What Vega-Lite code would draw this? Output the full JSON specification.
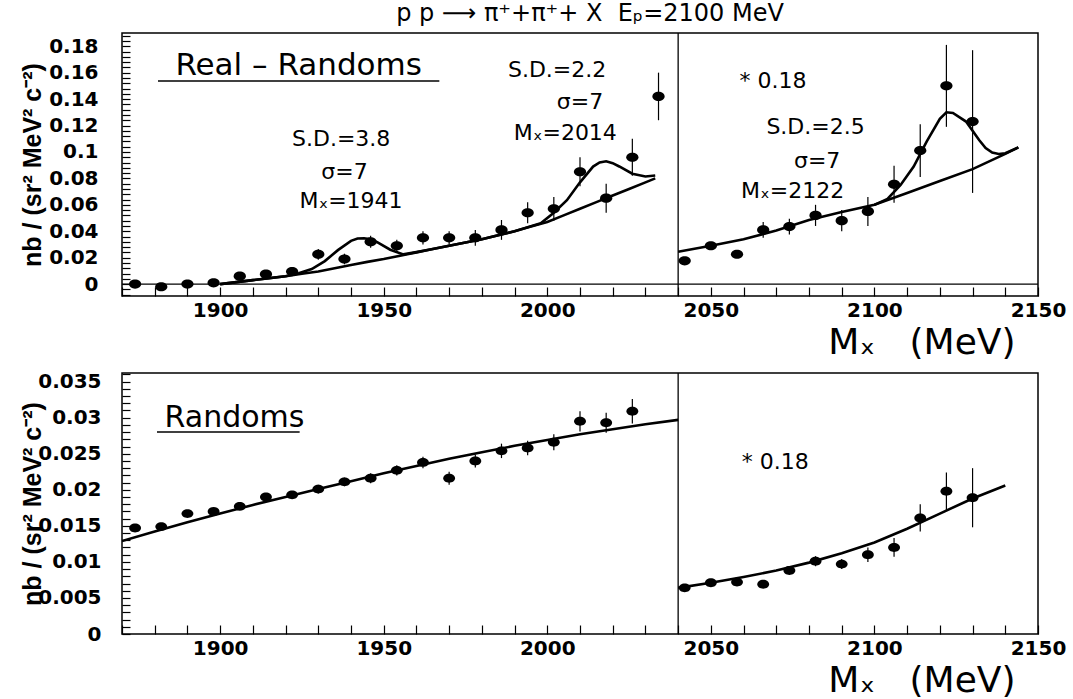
{
  "$schema": "https://vega.github.io/schema/vega-lite/v6.json",
  "background": "white",
  "padding": {"left": 19, "top": 0, "right": 5, "bottom": 0},
  "spacing": 2,
  "config": {
    "font": "DejaVu Sans",
    "view": {"stroke": "black", "strokeWidth": 1.5},
    "axis": {"labelColor": "black", "titleColor": "black", "tickColor": "black", "domain": false, "grid": false}
  },
  "datasets": {
    "topPts": [
      {"x":1874,"y":0.000,"lo":-0.002,"hi":0.002},
      {"x":1882,"y":-0.002,"lo":-0.004,"hi":0.000},
      {"x":1890,"y":0.000,"lo":-0.002,"hi":0.002},
      {"x":1898,"y":0.001,"lo":-0.001,"hi":0.003},
      {"x":1906,"y":0.006,"lo":0.003,"hi":0.009},
      {"x":1914,"y":0.0075,"lo":0.0045,"hi":0.0105},
      {"x":1922,"y":0.0095,"lo":0.0065,"hi":0.0125},
      {"x":1930,"y":0.0225,"lo":0.0185,"hi":0.0265},
      {"x":1938,"y":0.019,"lo":0.015,"hi":0.023},
      {"x":1946,"y":0.032,"lo":0.0275,"hi":0.0365},
      {"x":1954,"y":0.029,"lo":0.0245,"hi":0.0335},
      {"x":1962,"y":0.035,"lo":0.030,"hi":0.040},
      {"x":1970,"y":0.035,"lo":0.030,"hi":0.040},
      {"x":1978,"y":0.035,"lo":0.029,"hi":0.041},
      {"x":1986,"y":0.041,"lo":0.0335,"hi":0.0485},
      {"x":1994,"y":0.054,"lo":0.046,"hi":0.062},
      {"x":2002,"y":0.057,"lo":0.048,"hi":0.066},
      {"x":2010,"y":0.085,"lo":0.074,"hi":0.096},
      {"x":2018,"y":0.065,"lo":0.054,"hi":0.076},
      {"x":2026,"y":0.096,"lo":0.082,"hi":0.110},
      {"x":2034,"y":0.142,"lo":0.124,"hi":0.160},
      {"x":2042,"y":0.0176,"lo":0.0156,"hi":0.0196},
      {"x":2050,"y":0.029,"lo":0.027,"hi":0.031},
      {"x":2058,"y":0.0226,"lo":0.0206,"hi":0.0246},
      {"x":2066,"y":0.041,"lo":0.035,"hi":0.047},
      {"x":2074,"y":0.0435,"lo":0.0375,"hi":0.0495},
      {"x":2082,"y":0.052,"lo":0.044,"hi":0.060},
      {"x":2090,"y":0.048,"lo":0.040,"hi":0.056},
      {"x":2098,"y":0.055,"lo":0.044,"hi":0.066},
      {"x":2106,"y":0.0755,"lo":0.0615,"hi":0.0895},
      {"x":2114,"y":0.101,"lo":0.081,"hi":0.121},
      {"x":2122,"y":0.150,"lo":0.119,"hi":0.181},
      {"x":2130,"y":0.123,"lo":0.069,"hi":0.177}
    ],
    "topCurves": [
      {"c":"bgL","x":1900,"y":0.0},{"c":"bgL","x":1905,"y":0.0015},{"c":"bgL","x":1910,"y":0.003},{"c":"bgL","x":1915,"y":0.0045},
      {"c":"bgL","x":1920,"y":0.006},{"c":"bgL","x":1925,"y":0.0078},{"c":"bgL","x":1930,"y":0.0095},{"c":"bgL","x":1935,"y":0.012},
      {"c":"bgL","x":1940,"y":0.0145},{"c":"bgL","x":1945,"y":0.0168},{"c":"bgL","x":1950,"y":0.019},{"c":"bgL","x":1955,"y":0.0215},
      {"c":"bgL","x":1960,"y":0.024},{"c":"bgL","x":1965,"y":0.0265},{"c":"bgL","x":1970,"y":0.029},{"c":"bgL","x":1975,"y":0.0315},
      {"c":"bgL","x":1980,"y":0.034},{"c":"bgL","x":1985,"y":0.037},{"c":"bgL","x":1990,"y":0.040},{"c":"bgL","x":1995,"y":0.0435},
      {"c":"bgL","x":2000,"y":0.047},{"c":"bgL","x":2005,"y":0.052},{"c":"bgL","x":2010,"y":0.057},{"c":"bgL","x":2015,"y":0.062},
      {"c":"bgL","x":2020,"y":0.067},{"c":"bgL","x":2025,"y":0.072},{"c":"bgL","x":2030,"y":0.077},{"c":"bgL","x":2033,"y":0.080},
      {"c":"fitL","x":1900,"y":0.0},{"c":"fitL","x":1910,"y":0.003},{"c":"fitL","x":1920,"y":0.006},{"c":"fitL","x":1924,"y":0.0082},
      {"c":"fitL","x":1928,"y":0.0114},{"c":"fitL","x":1932,"y":0.0174},{"c":"fitL","x":1936,"y":0.0257},{"c":"fitL","x":1940,"y":0.0327},
      {"c":"fitL","x":1942,"y":0.0345},{"c":"fitL","x":1944,"y":0.0347},{"c":"fitL","x":1946,"y":0.034},{"c":"fitL","x":1948,"y":0.0317},
      {"c":"fitL","x":1952,"y":0.026},{"c":"fitL","x":1956,"y":0.0225},{"c":"fitL","x":1960,"y":0.0242},{"c":"fitL","x":1965,"y":0.0265},
      {"c":"fitL","x":1970,"y":0.029},{"c":"fitL","x":1980,"y":0.034},{"c":"fitL","x":1990,"y":0.040},{"c":"fitL","x":1995,"y":0.0437},
      {"c":"fitL","x":1998,"y":0.046},{"c":"fitL","x":2002,"y":0.054},{"c":"fitL","x":2006,"y":0.0635},{"c":"fitL","x":2010,"y":0.077},
      {"c":"fitL","x":2014,"y":0.0889},{"c":"fitL","x":2016,"y":0.092},{"c":"fitL","x":2018,"y":0.0929},{"c":"fitL","x":2020,"y":0.0915},
      {"c":"fitL","x":2022,"y":0.089},{"c":"fitL","x":2026,"y":0.0835},{"c":"fitL","x":2030,"y":0.0814},{"c":"fitL","x":2033,"y":0.0822},
      {"c":"bgR","x":2040,"y":0.0245},{"c":"bgR","x":2050,"y":0.029},{"c":"bgR","x":2060,"y":0.034},{"c":"bgR","x":2070,"y":0.0405},
      {"c":"bgR","x":2080,"y":0.0485},{"c":"bgR","x":2090,"y":0.0545},{"c":"bgR","x":2100,"y":0.060},{"c":"bgR","x":2110,"y":0.069},
      {"c":"bgR","x":2120,"y":0.078},{"c":"bgR","x":2130,"y":0.087},{"c":"bgR","x":2140,"y":0.0985},{"c":"bgR","x":2144,"y":0.1035},
      {"c":"fitR","x":2100,"y":0.060},{"c":"fitR","x":2104,"y":0.0645},{"c":"fitR","x":2108,"y":0.075},{"c":"fitR","x":2112,"y":0.089},
      {"c":"fitR","x":2116,"y":0.108},{"c":"fitR","x":2120,"y":0.125},{"c":"fitR","x":2122,"y":0.130},{"c":"fitR","x":2124,"y":0.1295},
      {"c":"fitR","x":2128,"y":0.123},{"c":"fitR","x":2132,"y":0.109},{"c":"fitR","x":2134,"y":0.103},{"c":"fitR","x":2136,"y":0.0995},
      {"c":"fitR","x":2138,"y":0.0985},{"c":"fitR","x":2140,"y":0.099},{"c":"fitR","x":2144,"y":0.1035}
    ],
    "topBig": [{"x":1924,"y":0.165,"t":"Real – Randoms"}],
    "topText": [
      {"x":1937,"y":0.110,"t":"S.D.=3.8"},
      {"x":1938,"y":0.0847,"t":"σ=7"},
      {"x":1940,"y":0.0628,"t":"Mₓ=1941"},
      {"x":2003,"y":0.162,"t":"S.D.=2.2"},
      {"x":2010,"y":0.138,"t":"σ=7"},
      {"x":2005.5,"y":0.114,"t":"Mₓ=2014"},
      {"x":2069,"y":0.1537,"t":"* 0.18"},
      {"x":2082,"y":0.119,"t":"S.D.=2.5"},
      {"x":2082.5,"y":0.0933,"t":"σ=7"},
      {"x":2075,"y":0.0707,"t":"Mₓ=2122"}
    ],
    "topUnder": [{"x":1881,"x2":1967,"y":0.1536}],
    "topZero": [{"y":0}],
    "sep": [{"x":2040}],
    "botPts": [
      {"x":1874,"y":0.0147,"lo":0.0143,"hi":0.0151},
      {"x":1882,"y":0.0149,"lo":0.0145,"hi":0.0153},
      {"x":1890,"y":0.0167,"lo":0.0163,"hi":0.0171},
      {"x":1898,"y":0.0170,"lo":0.0166,"hi":0.0174},
      {"x":1906,"y":0.0177,"lo":0.0172,"hi":0.0182},
      {"x":1914,"y":0.0190,"lo":0.0185,"hi":0.0195},
      {"x":1922,"y":0.0193,"lo":0.0188,"hi":0.0198},
      {"x":1930,"y":0.0201,"lo":0.0195,"hi":0.0207},
      {"x":1938,"y":0.0211,"lo":0.0205,"hi":0.0217},
      {"x":1946,"y":0.0216,"lo":0.0209,"hi":0.0223},
      {"x":1954,"y":0.0227,"lo":0.0220,"hi":0.0234},
      {"x":1962,"y":0.0238,"lo":0.0230,"hi":0.0246},
      {"x":1970,"y":0.0216,"lo":0.0207,"hi":0.0225},
      {"x":1978,"y":0.0240,"lo":0.0231,"hi":0.0249},
      {"x":1986,"y":0.0254,"lo":0.0244,"hi":0.0264},
      {"x":1994,"y":0.0258,"lo":0.0248,"hi":0.0268},
      {"x":2002,"y":0.0266,"lo":0.0255,"hi":0.0277},
      {"x":2010,"y":0.0295,"lo":0.0281,"hi":0.0309},
      {"x":2018,"y":0.0293,"lo":0.0279,"hi":0.0307},
      {"x":2026,"y":0.0309,"lo":0.0292,"hi":0.0326},
      {"x":2042,"y":0.0064,"lo":0.0062,"hi":0.0066},
      {"x":2050,"y":0.0071,"lo":0.0068,"hi":0.0074},
      {"x":2058,"y":0.0072,"lo":0.0069,"hi":0.0075},
      {"x":2066,"y":0.0069,"lo":0.0066,"hi":0.0072},
      {"x":2074,"y":0.0088,"lo":0.0083,"hi":0.0093},
      {"x":2082,"y":0.0101,"lo":0.0094,"hi":0.0108},
      {"x":2090,"y":0.0097,"lo":0.0090,"hi":0.0104},
      {"x":2098,"y":0.0110,"lo":0.0100,"hi":0.0120},
      {"x":2106,"y":0.0120,"lo":0.0107,"hi":0.0133},
      {"x":2114,"y":0.0161,"lo":0.0142,"hi":0.0180},
      {"x":2122,"y":0.0198,"lo":0.0172,"hi":0.0224},
      {"x":2130,"y":0.0189,"lo":0.0148,"hi":0.0230}
    ],
    "botCurves": [
      {"c":"bgL","x":1870,"y":0.0129},{"c":"bgL","x":1880,"y":0.0142},{"c":"bgL","x":1890,"y":0.0155},{"c":"bgL","x":1900,"y":0.0167},
      {"c":"bgL","x":1910,"y":0.0179},{"c":"bgL","x":1920,"y":0.0190},{"c":"bgL","x":1930,"y":0.0201},{"c":"bgL","x":1940,"y":0.0212},
      {"c":"bgL","x":1950,"y":0.0223},{"c":"bgL","x":1960,"y":0.0233},{"c":"bgL","x":1970,"y":0.0243},{"c":"bgL","x":1980,"y":0.0252},
      {"c":"bgL","x":1990,"y":0.0261},{"c":"bgL","x":2000,"y":0.0269},{"c":"bgL","x":2010,"y":0.0277},{"c":"bgL","x":2020,"y":0.0284},
      {"c":"bgL","x":2030,"y":0.0291},{"c":"bgL","x":2040,"y":0.0297},
      {"c":"bgR","x":2040,"y":0.0064},{"c":"bgR","x":2050,"y":0.0071},{"c":"bgR","x":2060,"y":0.0079},{"c":"bgR","x":2070,"y":0.0088},
      {"c":"bgR","x":2080,"y":0.0099},{"c":"bgR","x":2090,"y":0.0112},{"c":"bgR","x":2100,"y":0.0127},{"c":"bgR","x":2110,"y":0.0146},
      {"c":"bgR","x":2120,"y":0.0167},{"c":"bgR","x":2130,"y":0.0188},{"c":"bgR","x":2140,"y":0.0206}
    ],
    "botBig": [{"x":1904.4,"y":0.0300,"t":"Randoms"}],
    "botText": [{"x":2069.7,"y":0.0239,"t":"* 0.18"}],
    "botUnder": [{"x":1880.7,"x2":1924.3,"y":0.0280}]
  },
  "vconcat": [
    {
      "width": 916,
      "height": 263,
      "title": {"text": "p p ⟶ π⁺+π⁺+ X\u00a0\u00a0Eₚ=2100 MeV", "fontSize": 24, "fontWeight": "normal", "font": "DejaVu Sans", "anchor": "middle", "dx": 10, "offset": 0, "color": "black"},
      "layer": [
        {
          "data": {"name": "topPts"},
          "mark": {"type": "point", "shape": "M-1,0A1,0.75,0,1,1,1,0A1,0.75,0,1,1,-1,0Z", "filled": true, "color": "black", "size": 150, "opacity": 1},
          "encoding": {
            "x": {"field": "x", "type": "quantitative", "scale": {"domain": [1870, 2150], "nice": false, "zero": false},
              "axis": {"values": [1870,1880,1890,1900,1910,1920,1930,1940,1950,1960,1970,1980,1990,2000,2010,2020,2030,2040,2050,2060,2070,2080,2090,2100,2110,2120,2130,2140,2150],
                "tickCount": 500, "format": "d", "labelExpr": "datum.value % 50 === 0 ? datum.label : ''",
                "tickSize": -9, "tickWidth": 1.2, "labelPadding": 13, "labelFontSize": 20, "labelFontWeight": "bold",
                "labelFlush": false, "labelOverlap": false, "labelBound": false,
                "title": "Mₓ\u00a0\u00a0\u00a0(MeV)", "titleFontSize": 36, "titleFontWeight": "normal", "titleX": 893, "titleY": 57, "titleAlign": "right", "titleBaseline": "alphabetic"}},
            "y": {"field": "y", "type": "quantitative", "scale": {"domain": [-0.009, 0.19], "nice": false, "zero": false},
              "axis": {"values": [-0.008,-0.004,0,0.004,0.008,0.012,0.016,0.02,0.024,0.028,0.032,0.036,0.04,0.044,0.048,0.052,0.056,0.06,0.064,0.068,0.072,0.076,0.08,0.084,0.088,0.092,0.096,0.1,0.104,0.108,0.112,0.116,0.12,0.124,0.128,0.132,0.136,0.14,0.144,0.148,0.152,0.156,0.16,0.164,0.168,0.172,0.176,0.18,0.184,0.188],
                "tickCount": 500, "format": "~g", "labelExpr": "round(datum.value*1000) % 20 === 0 ? datum.label : ''",
                "tickSize": -8, "tickWidth": 1.2, "labelPadding": 32, "labelFontSize": 20, "labelFontWeight": "bold",
                "labelOverlap": false, "labelBound": false, "minExtent": 74, "maxExtent": 74,
                "title": "nb / (sr² MeV² c⁻²)", "titleFont": "Liberation Sans", "titleFontSize": 25, "titleFontWeight": "bold", "titlePadding": 3}}
          }
        },
        {
          "data": {"name": "topZero"},
          "mark": {"type": "rule", "color": "black", "strokeWidth": 1.3},
          "encoding": {"y": {"field": "y", "type": "quantitative", "scale": {"domain": [-0.009, 0.19], "nice": false, "zero": false}}}
        },
        {
          "data": {"name": "sep"},
          "mark": {"type": "rule", "color": "black", "strokeWidth": 1.3},
          "encoding": {"x": {"field": "x", "type": "quantitative", "scale": {"domain": [1870, 2150], "nice": false, "zero": false}}}
        },
        {
          "data": {"name": "topCurves"},
          "mark": {"type": "line", "color": "black", "strokeWidth": 2.6, "clip": true},
          "encoding": {
            "x": {"field": "x", "type": "quantitative", "scale": {"domain": [1870, 2150], "nice": false, "zero": false}},
            "y": {"field": "y", "type": "quantitative", "scale": {"domain": [-0.009, 0.19], "nice": false, "zero": false}},
            "detail": {"field": "c"}
          }
        },
        {
          "data": {"name": "topPts"},
          "mark": {"type": "rule", "color": "black", "strokeWidth": 1.2},
          "encoding": {
            "x": {"field": "x", "type": "quantitative", "scale": {"domain": [1870, 2150], "nice": false, "zero": false}},
            "y": {"field": "lo", "type": "quantitative", "scale": {"domain": [-0.009, 0.19], "nice": false, "zero": false}},
            "y2": {"field": "hi"}
          }
        },
        {
          "data": {"name": "topBig"},
          "mark": {"type": "text", "fontSize": 31, "font": "DejaVu Sans", "align": "center", "baseline": "middle", "color": "black"},
          "encoding": {
            "x": {"field": "x", "type": "quantitative", "scale": {"domain": [1870, 2150], "nice": false, "zero": false}},
            "y": {"field": "y", "type": "quantitative", "scale": {"domain": [-0.009, 0.19], "nice": false, "zero": false}},
            "text": {"field": "t"}
          }
        },
        {
          "data": {"name": "topText"},
          "mark": {"type": "text", "fontSize": 22, "font": "DejaVu Sans", "align": "center", "baseline": "middle", "color": "black"},
          "encoding": {
            "x": {"field": "x", "type": "quantitative", "scale": {"domain": [1870, 2150], "nice": false, "zero": false}},
            "y": {"field": "y", "type": "quantitative", "scale": {"domain": [-0.009, 0.19], "nice": false, "zero": false}},
            "text": {"field": "t"}
          }
        },
        {
          "data": {"name": "topUnder"},
          "mark": {"type": "rule", "color": "black", "strokeWidth": 1.5},
          "encoding": {
            "x": {"field": "x", "type": "quantitative", "scale": {"domain": [1870, 2150], "nice": false, "zero": false}},
            "x2": {"field": "x2"},
            "y": {"field": "y", "type": "quantitative", "scale": {"domain": [-0.009, 0.19], "nice": false, "zero": false}}
          }
        }
      ]
    },
    {
      "width": 916,
      "height": 261,
      "layer": [
        {
          "data": {"name": "botPts"},
          "mark": {"type": "point", "shape": "M-1,0A1,0.75,0,1,1,1,0A1,0.75,0,1,1,-1,0Z", "filled": true, "color": "black", "size": 140, "opacity": 1},
          "encoding": {
            "x": {"field": "x", "type": "quantitative", "scale": {"domain": [1870, 2150], "nice": false, "zero": false},
              "axis": {"values": [1870,1880,1890,1900,1910,1920,1930,1940,1950,1960,1970,1980,1990,2000,2010,2020,2030,2040,2050,2060,2070,2080,2090,2100,2110,2120,2130,2140,2150],
                "tickCount": 500, "format": "d", "labelExpr": "datum.value % 50 === 0 ? datum.label : ''",
                "tickSize": -9, "tickWidth": 1.2, "labelPadding": 13, "labelFontSize": 20, "labelFontWeight": "bold",
                "labelFlush": false, "labelOverlap": false, "labelBound": false,
                "title": "Mₓ\u00a0\u00a0\u00a0(MeV)", "titleFontSize": 36, "titleFontWeight": "normal", "titleX": 893, "titleY": 57, "titleAlign": "right", "titleBaseline": "alphabetic"}},
            "y": {"field": "y", "type": "quantitative", "scale": {"domain": [0, 0.0362], "nice": false, "zero": false},
              "axis": {"values": [0,0.001,0.002,0.003,0.004,0.005,0.006,0.007,0.008,0.009,0.01,0.011,0.012,0.013,0.014,0.015,0.016,0.017,0.018,0.019,0.02,0.021,0.022,0.023,0.024,0.025,0.026,0.027,0.028,0.029,0.03,0.031,0.032,0.033,0.034,0.035,0.036],
                "tickCount": 500, "format": "~g", "labelExpr": "round(datum.value*10000) % 50 === 0 ? datum.label : ''",
                "tickSize": -8, "tickWidth": 1.2, "labelPadding": 29, "labelFontSize": 20, "labelFontWeight": "bold",
                "labelOverlap": false, "labelBound": false, "minExtent": 74, "maxExtent": 74,
                "title": "nb / (sr² MeV² c⁻²)", "titleFont": "Liberation Sans", "titleFontSize": 25, "titleFontWeight": "bold", "titlePadding": 3}}
          }
        },
        {
          "data": {"name": "sep"},
          "mark": {"type": "rule", "color": "black", "strokeWidth": 1.3},
          "encoding": {"x": {"field": "x", "type": "quantitative", "scale": {"domain": [1870, 2150], "nice": false, "zero": false}}}
        },
        {
          "data": {"name": "botCurves"},
          "mark": {"type": "line", "color": "black", "strokeWidth": 2.6, "clip": true},
          "encoding": {
            "x": {"field": "x", "type": "quantitative", "scale": {"domain": [1870, 2150], "nice": false, "zero": false}},
            "y": {"field": "y", "type": "quantitative", "scale": {"domain": [0, 0.0362], "nice": false, "zero": false}},
            "detail": {"field": "c"}
          }
        },
        {
          "data": {"name": "botPts"},
          "mark": {"type": "rule", "color": "black", "strokeWidth": 1.2},
          "encoding": {
            "x": {"field": "x", "type": "quantitative", "scale": {"domain": [1870, 2150], "nice": false, "zero": false}},
            "y": {"field": "lo", "type": "quantitative", "scale": {"domain": [0, 0.0362], "nice": false, "zero": false}},
            "y2": {"field": "hi"}
          }
        },
        {
          "data": {"name": "botBig"},
          "mark": {"type": "text", "fontSize": 30, "font": "DejaVu Sans", "align": "center", "baseline": "middle", "color": "black"},
          "encoding": {
            "x": {"field": "x", "type": "quantitative", "scale": {"domain": [1870, 2150], "nice": false, "zero": false}},
            "y": {"field": "y", "type": "quantitative", "scale": {"domain": [0, 0.0362], "nice": false, "zero": false}},
            "text": {"field": "t"}
          }
        },
        {
          "data": {"name": "botText"},
          "mark": {"type": "text", "fontSize": 22, "font": "DejaVu Sans", "align": "center", "baseline": "middle", "color": "black"},
          "encoding": {
            "x": {"field": "x", "type": "quantitative", "scale": {"domain": [1870, 2150], "nice": false, "zero": false}},
            "y": {"field": "y", "type": "quantitative", "scale": {"domain": [0, 0.0362], "nice": false, "zero": false}},
            "text": {"field": "t"}
          }
        },
        {
          "data": {"name": "botUnder"},
          "mark": {"type": "rule", "color": "black", "strokeWidth": 1.5},
          "encoding": {
            "x": {"field": "x", "type": "quantitative", "scale": {"domain": [1870, 2150], "nice": false, "zero": false}},
            "x2": {"field": "x2"},
            "y": {"field": "y", "type": "quantitative", "scale": {"domain": [0, 0.0362], "nice": false, "zero": false}}
          }
        }
      ]
    }
  ]
}
